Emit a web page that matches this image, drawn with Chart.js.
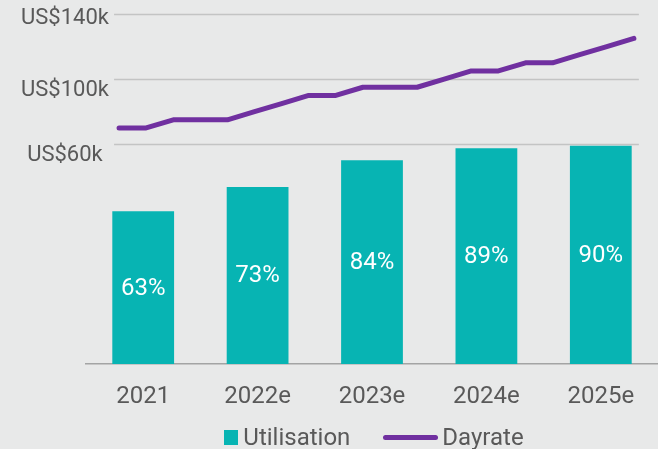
<!DOCTYPE html>
<html>
<head>
<meta charset="utf-8">
<script src="https://cdn.jsdelivr.net/npm/chart.js@4"></script>
<style>
  html, body { margin:0; padding:0; background:#e8e9e9; }
  .wrap { position:relative; width:658px; height:449px; font-family:Roboto, sans-serif; }
  #chart { display:block; }
  .legend { position:absolute; left:90px; right:0; top:424px; height:26px;
            display:flex; justify-content:center; align-items:center; gap:33px;
            font-size:24px; color:#595959; line-height:26px; }
  .legend-item { display:flex; align-items:center; }
  .sw-box { width:14px; height:15px; margin-right:5px; }
  .sw-line { width:55px; height:5px; border-radius:3px; margin-right:4px; }
</style>
</head>
<body>
<div class="wrap">
  <canvas id="chart" width="658" height="449"></canvas>
  <div class="legend" id="legend"></div>
</div>
<script>
/* Utilisation (bars, %) and quarterly dayrate (line, US$k) */
const years = ['2021', '2022e', '2023e', '2024e', '2025e'];
const utilisation = [63, 73, 84, 89, 90];
const quarters = ['1Q21','2Q21','3Q21','4Q21','1Q22','2Q22','3Q22','4Q22','1Q23','2Q23',
                  '3Q23','4Q23','1Q24','2Q24','3Q24','4Q24','1Q25','2Q25','3Q25','4Q25'];
const dayrate = [70, 70, 75, 75, 75, 80, 85, 90, 90, 95, 95, 95, 100, 105, 105, 110, 110, 115, 120, 125];
const dayrateTicks = [60, 100, 140];

const TEAL = '#07b4b3';
const PURPLE = '#7030a0';
const TEXT = '#595959';
const FONT = 'Roboto, sans-serif';
const TOP_TICK = dayrateTicks[dayrateTicks.length - 1];

// gridlines only span the dayrate line, not the whole plot
const gridPlugin = {
  id: 'shortGrid',
  beforeDatasetsDraw(chart) {
    const {ctx, scales} = chart;
    const xq = scales.xq, y = scales.y;
    const x0 = xq.getPixelForValue(0) - 5;
    const x1 = xq.getPixelForValue(dayrate.length - 1) + 5;
    ctx.save();
    ctx.strokeStyle = '#c3c4c4';
    ctx.lineWidth = 1.5;
    y.ticks.forEach(t => {
      const py = Math.round(y.getPixelForValue(t.value)) + 0.5;
      ctx.beginPath(); ctx.moveTo(x0, py); ctx.lineTo(x1, py); ctx.stroke();
    });
    ctx.restore();
  }
};

const barLabels = {
  id: 'barLabels',
  afterDatasetsDraw(chart) {
    const {ctx} = chart;
    const idx = chart.data.datasets.findIndex(d => d.label === 'Utilisation');
    const meta = chart.getDatasetMeta(idx);
    ctx.save();
    ctx.fillStyle = '#ffffff';
    ctx.font = '24px ' + FONT;
    ctx.textAlign = 'center';
    ctx.textBaseline = 'middle';
    meta.data.forEach((bar, i) => {
      ctx.fillText(utilisation[i] + '%', bar.x, (bar.y + bar.base) / 2 + 1);
    });
    ctx.restore();
  }
};

const chart = new Chart(document.getElementById('chart'), {
  type: 'bar',
  data: {
    labels: years,
    datasets: [
      {
        type: 'line', label: 'Dayrate',
        data: dayrate.map((v, i) => ({x: i, y: v})),
        xAxisID: 'xq', yAxisID: 'y',
        borderColor: PURPLE, backgroundColor: PURPLE, borderWidth: 5,
        borderCapStyle: 'round', borderJoinStyle: 'round',
        pointRadius: 0, tension: 0, order: 0
      },
      {
        label: 'Utilisation', data: utilisation,
        xAxisID: 'x', yAxisID: 'y2', grouped: false,
        backgroundColor: TEAL, borderWidth: 0,
        categoryPercentage: 1, barPercentage: 0.54, order: 1
      }
    ]
  },
  options: {
    responsive: false,
    animation: false,
    layout: { padding: { top: 14, left: 0, right: 0, bottom: 0 } },
    plugins: { legend: { display: false }, tooltip: { enabled: false } },
    scales: {
      x: {
        type: 'category', offset: true,
        grid: { display: false, drawTicks: false },
        border: { display: true, color: '#a3a4a4', width: 1.5 },
        ticks: { color: TEXT, font: { family: FONT, size: 24 }, padding: 19, maxRotation: 0 },
        afterFit(s) { s.height = 85; }
      },
      xq: {
        type: 'linear', display: false, offset: false, min: -1.22, max: 19.89,
        grid: { offset: false }
      },
      y: {
        position: 'left', min: -75, max: 140,
        grid: { display: false, drawTicks: false },
        border: { display: false },
        afterBuildTicks(s) { s.ticks = dayrateTicks.map(v => ({value: v})); },
        ticks: {
          color: TEXT,
          // top label sits tighter to its gridline than the others
          font: c => ({ family: FONT, size: 22, lineHeight: c.tick && c.tick.value === TOP_TICK ? '14px' : 1.2 }),
          mirror: true, crossAlign: 'center', padding: -65, labelOffset: 11,
          callback: v => v === TOP_TICK ? ['US$' + v + 'k', ''] : 'US$' + v + 'k'
        },
        afterFit(s) { s.width = 86; }
      },
      y2: {
        position: 'right', display: false, min: 0, max: 144.3
      }
    }
  },
  plugins: [gridPlugin, barLabels]
});

// html legend from the chart's own datasets
const legendEl = document.getElementById('legend');
['Utilisation', 'Dayrate'].forEach(name => {
  const ds = chart.data.datasets.find(d => d.label === name);
  const item = document.createElement('div');
  item.className = 'legend-item';
  const sw = document.createElement('span');
  sw.className = ds.type === 'line' ? 'sw-line' : 'sw-box';
  sw.style.background = ds.type === 'line' ? ds.borderColor : ds.backgroundColor;
  const txt = document.createElement('span');
  txt.textContent = ds.label;
  item.appendChild(sw); item.appendChild(txt);
  legendEl.appendChild(item);
});
</script>
</body>
</html>
